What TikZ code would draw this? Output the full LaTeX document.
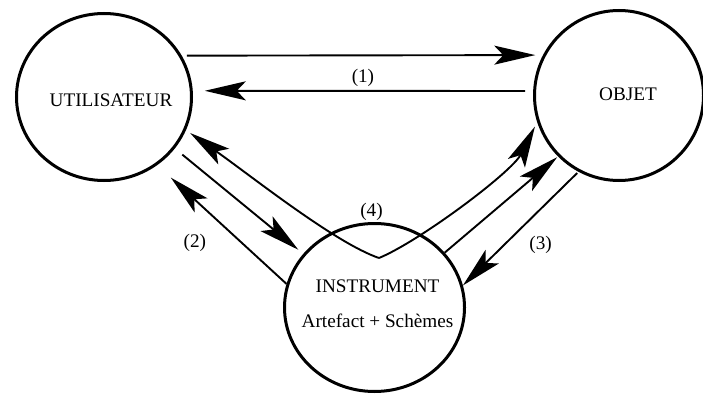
\documentclass[tikz,border=0pt]{standalone}
\usepackage{fontspec}
\setmainfont{Liberation Serif}
\usetikzlibrary{shapes.geometric,arrows.meta,positioning}
\tikzstyle{etat}=[
        draw = black,
        line width = 3pt,
        ellipse,
        inner sep = 0pt
    ]
\tikzstyle{fleche}=[
    line width = 1.9pt,
    -{Stealth[length=41pt, width=19pt, inset=9pt]}
]

\begin{document}
\begin{tikzpicture}[x=1pt, y=-1pt, font=\fontsize{19.2pt}{23pt}\selectfont]
        \useasboundingbox (0,0) rectangle (703,393);
        \node[etat, minimum width=175pt, minimum height=167pt,
            label={[xshift=7pt, yshift=-3pt]center:UTILISATEUR}] (u) at (104,97) {};
        \node[etat, minimum width=169pt, minimum height=170pt,
            label={[xshift=9pt, yshift=1.5pt]center:OBJET}] (o) at (619,95.5) {};
        \node[etat, minimum width=180pt, minimum height=168pt,
            label={[align=center, xshift=3pt, yshift=4pt]center:{INSTRUMENT\\[11.7pt]Artefact + Schèmes}}] (i) at (374.5,307.5) {};
        \coordinate (creux) at (379,258);
        \node (q) [above=-2pt of i.north, xshift=-3pt] {(4)};

        \draw[fleche, shorten <=5pt, shorten >=7.7pt] (u.28) -- (o.152);
        \draw[fleche, shorten <=8pt, shorten >=12pt] (o.177) -- (u.4) node [midway, above] {(1)};
        \draw[fleche, shorten <=9.7pt, shorten >=6.4pt] (u.-36) -- (i.143);
        \draw[fleche, shorten >=18.4pt] (i.165) -- (u.-52) node [midway, xshift=-27pt, yshift=-18pt] {(2)};
        \draw[fleche, shorten >=1pt] (i.38) -- (o.225);
        \draw[fleche, shorten <=1.8pt] (o.242) -- (i.14) node [midway, xshift=20pt, yshift=-16pt] {(3)};
        \draw[fleche, shorten >=5pt] (creux) .. controls (335,243) and (250,175) .. (u.-22);
        \draw[fleche, shorten >=5pt] (creux) .. controls (420,241) and (512,172) .. (o.198);

    \end{tikzpicture}
\end{document}
